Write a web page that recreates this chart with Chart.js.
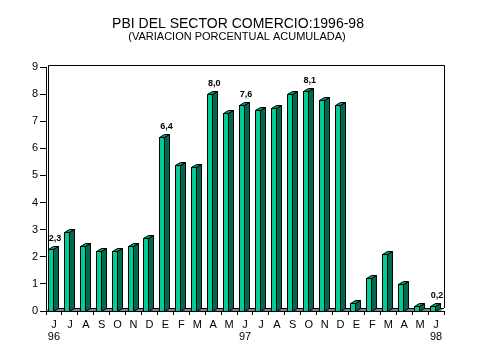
<!DOCTYPE html>
<html>
<head>
<meta charset="utf-8">
<script src="https://cdn.jsdelivr.net/npm/chart.js@4.4.1/dist/chart.umd.min.js"></script>
<style>
  body { margin: 0; background: #fff; }
  #wrap { width: 479px; height: 359px; }
</style>
</head>
<body>
<div id="wrap"><canvas id="myChart" width="479" height="359"></canvas></div>
<script>
// datos
var meses = ['J','J','A','S','O','N','D','E','F','M','A','M','J','J','A','S','O','N','D','E','F','M','A','M','J'];
var anios = ['96','','','','','','','','','','','','97','','','','','','','','','','','','98'];
var valores = [2.3,2.9,2.4,2.2,2.2,2.4,2.7,6.4,5.4,5.3,8.0,7.3,7.6,7.4,7.5,8.0,8.1,7.8,7.6,0.3,1.2,2.1,1.0,0.2,0.2];
var conEtiqueta = [0,7,10,12,16,24];   // barras con el valor escrito encima
var yTicks = [0,1,2,3,4,5,6,7,8,9];

var FRENTE = '#00cc99', LADO = '#006a50', TAPA = '#00996f';
var DX = 5, DY = 3;

var etiquetas = meses.map(function(m, i){
  return anios[i] ? [m, anios[i]] : m;
});

// marco, piso y barras 3D
var barras3d = {
  id: 'barras3d',
  beforeDatasetsDraw: function(chart){
    var ctx = chart.ctx, a = chart.chartArea;
    var y0 = chart.scales.y.getPixelForValue(0);
    ctx.save();
    ctx.strokeStyle = '#000';
    ctx.lineWidth = 1;
    // pared de fondo
    ctx.beginPath();
    ctx.moveTo(a.left + 2.5, y0 - DY);
    ctx.lineTo(a.left + 2.5, a.top - 1.5);
    ctx.lineTo(a.right + 0.5, a.top - 1.5);
    ctx.lineTo(a.right + 0.5, y0 - DY);
    ctx.stroke();
    // piso
    ctx.fillStyle = '#808080';
    ctx.beginPath();
    ctx.moveTo(a.left, y0);
    ctx.lineTo(a.left + DY, y0 - DY);
    ctx.lineTo(a.right, y0 - DY);
    ctx.lineTo(a.right - DY, y0);
    ctx.closePath();
    ctx.fill();
    ctx.beginPath();
    ctx.moveTo(a.left + DY, y0 - DY + 0.5);
    ctx.lineTo(a.right, y0 - DY + 0.5);
    ctx.stroke();
    ctx.restore();
  },
  afterDatasetsDraw: function(chart){
    var ctx = chart.ctx;
    var meta = chart.getDatasetMeta(0);
    ctx.save();
    ctx.strokeStyle = '#000';
    ctx.lineWidth = 1;
    ctx.lineJoin = 'miter';
    meta.data.forEach(function(el, i){
      var x0 = Math.round(el.x - 6) + 0.5;
      var w = 5;
      var yt = Math.round(el.y) + 0.5;
      var yb = Math.round(el.base) + 0.5;
      // lado
      ctx.fillStyle = LADO;
      ctx.beginPath();
      ctx.moveTo(x0 + w, yt);
      ctx.lineTo(x0 + w + DX, yt - DY);
      ctx.lineTo(x0 + w + DX, yb - DY);
      ctx.lineTo(x0 + w, yb);
      ctx.closePath();
      ctx.fill(); ctx.stroke();
      // tapa
      ctx.fillStyle = TAPA;
      ctx.beginPath();
      ctx.moveTo(x0, yt);
      ctx.lineTo(x0 + DX, yt - DY);
      ctx.lineTo(x0 + w + DX, yt - DY);
      ctx.lineTo(x0 + w, yt);
      ctx.closePath();
      ctx.fill(); ctx.stroke();
      // frente
      ctx.fillStyle = FRENTE;
      ctx.fillRect(x0, yt, w, yb - yt);
      ctx.strokeRect(x0, yt, w, yb - yt);
    });
    // valores
    ctx.fillStyle = '#000';
    ctx.font = 'bold 9px "Liberation Sans", Arial, sans-serif';
    ctx.textAlign = 'center';
    ctx.textBaseline = 'alphabetic';
    conEtiqueta.forEach(function(i){
      var el = meta.data[i];
      ctx.fillText(valores[i].toFixed(1).replace('.', ','), el.x + 1, el.y - 8);
    });
    ctx.restore();
  },
  afterDraw: function(chart){
    var ctx = chart.ctx;
    ctx.save();
    ctx.fillStyle = '#000';
    ctx.textAlign = 'center';
    ctx.textBaseline = 'alphabetic';
    ctx.font = '14px "Liberation Sans", Arial, sans-serif';
    ctx.fillText('PBI DEL SECTOR COMERCIO:1996-98', 238, 28);
    ctx.font = '11px "Liberation Sans", Arial, sans-serif';
    ctx.fillText('(VARIACION PORCENTUAL ACUMULADA)', 237, 40);
    ctx.restore();
  }
};

window.onload = function(){
  var ctx = document.getElementById('myChart');
  var myChart = new Chart(ctx, {
    type: 'bar',
    data: {
      labels: etiquetas,
      datasets: [{
        data: valores,
        backgroundColor: 'rgba(0,0,0,0)',
        borderWidth: 0,
        barPercentage: 0.5,
        categoryPercentage: 1
      }]
    },
    options: {
      responsive: false,
      animation: false,
      layout: { padding: { left: 0, right: 35, top: 67, bottom: 16 } },
      plugins: {
        legend: { display: false },
        tooltip: { enabled: false }
      },
      scales: {
        x: {
          grid: { display: true, drawOnChartArea: false, offset: true, color: '#000', tickLength: 4 },
          border: { display: true, color: '#000', width: 1 },
          ticks: {
            color: '#000',
            padding: 4,
            maxRotation: 0,
            autoSkip: false,
            font: { family: '"Liberation Sans", Arial, sans-serif', size: 11, lineHeight: 1.1 }
          },
          afterFit: function(scale){ scale.height = 32; }
        },
        y: {
          min: 0,
          max: 9,
          afterBuildTicks: function(scale){
            scale.ticks = yTicks.map(function(v){ return { value: v }; });
          },
          grid: { display: true, drawOnChartArea: false, color: '#000', tickLength: 6 },
          border: { display: true, color: '#000', width: 1 },
          ticks: {
            color: '#000',
            padding: 2,
            font: { family: '"Liberation Sans", Arial, sans-serif', size: 11 }
          },
          afterFit: function(scale){ scale.width = 46; }
        }
      }
    },
    plugins: [barras3d]
  });
};
</script>
</body>
</html>
